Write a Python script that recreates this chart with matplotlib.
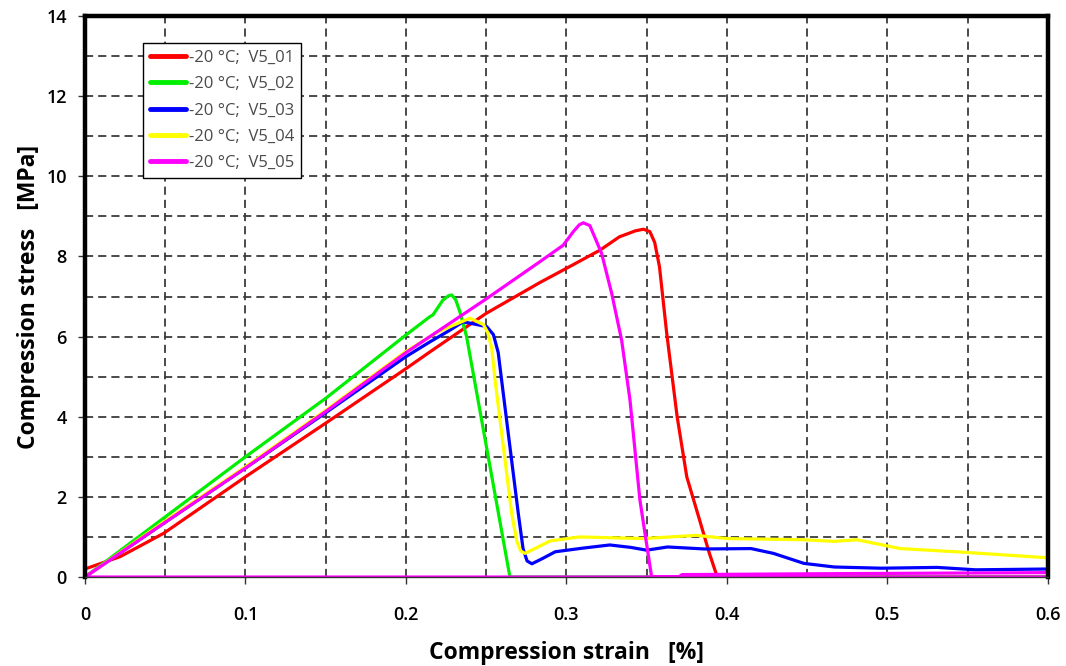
import matplotlib
matplotlib.use("Agg")
import matplotlib.pyplot as plt
from matplotlib.ticker import MultipleLocator

plt.rcParams['font.family'] = ['Open Sans', 'DejaVu Sans']

# ---------------------------------------------
# Data (strain %, stress MPa)
# ---------------------------------------------
labels = ["-20 °C;  V5_01", "-20 °C;  V5_02", "-20 °C;  V5_03",
          "-20 °C;  V5_04", "-20 °C;  V5_05"]
colors = ["#ff0000", "#00ee00", "#0000ff", "#ffff00", "#ff00ff"]

xticks = [0.0, 0.1, 0.2, 0.3, 0.4, 0.5, 0.6]
xtick_labels = ["0", "0.1", "0.2", "0.3", "0.4", "0.5", "0.6"]
yticks = [0, 2, 4, 6, 8, 10, 12, 14]

strain_01 = [0.0, 0.022, 0.049, 0.1, 0.15, 0.2, 0.215, 0.25, 0.2835, 0.304,
             0.321, 0.333, 0.343, 0.348, 0.352, 0.355, 0.358, 0.3625, 0.369,
             0.375, 0.383, 0.389, 0.394, 0.6]
stress_01 = [0.2, 0.51, 1.09, 2.5, 3.84, 5.2, 5.62, 6.58, 7.35, 7.79,
             8.16, 8.49, 8.64, 8.68, 8.62, 8.35, 7.74, 6.08, 4.0,
             2.5, 1.42, 0.6, 0.0, 0.0]

strain_02 = [0.0, 0.049, 0.1, 0.15, 0.2, 0.215, 0.2168, 0.223, 0.2265, 0.2285,
             0.231, 0.2336, 0.2378, 0.2648, 0.6]
stress_02 = [0.0, 1.47, 3.0, 4.46, 6.04, 6.5, 6.54, 6.91, 7.02, 7.04,
             6.92, 6.62, 6.0, 0.0, 0.0]

strain_03 = [0.0, 0.049, 0.1, 0.15, 0.2, 0.215, 0.2274, 0.2356, 0.2503, 0.2545,
             0.2575, 0.2596, 0.2648, 0.270, 0.273, 0.2755, 0.2785, 0.2855, 0.293,
             0.31, 0.327, 0.34, 0.35, 0.363, 0.386, 0.415, 0.429, 0.448, 0.467,
             0.496, 0.531, 0.555, 0.6]
stress_03 = [0.0, 1.34, 2.72, 4.1, 5.5, 5.87, 6.16, 6.37, 6.25, 6.05,
             5.6, 4.92, 3.25, 1.59, 0.7, 0.4, 0.33, 0.47, 0.63,
             0.72, 0.8, 0.74, 0.67, 0.75, 0.7, 0.71, 0.59, 0.34, 0.25,
             0.22, 0.24, 0.18, 0.2]

strain_04 = [0.0, 0.049, 0.1, 0.15, 0.2, 0.22, 0.2399, 0.2483, 0.251, 0.2535,
             0.2555, 0.2607, 0.2659, 0.269, 0.2715, 0.2742, 0.2898, 0.308, 0.348,
             0.381, 0.40, 0.448, 0.467, 0.481, 0.508, 0.543, 0.6]
stress_04 = [0.0, 1.37, 2.75, 4.16, 5.63, 6.12, 6.46, 6.3, 6.1, 5.7,
             4.92, 3.25, 1.59, 0.9, 0.65, 0.59, 0.9, 1.0, 0.96,
             1.04, 0.96, 0.93, 0.89, 0.93, 0.71, 0.63, 0.48]

strain_05 = [0.0, 0.049, 0.1, 0.15, 0.2, 0.25, 0.2835, 0.298, 0.3043, 0.308,
             0.3105, 0.3146, 0.3219, 0.3282, 0.3344, 0.3396, 0.3458, 0.3531, 0.37,
             0.372, 0.45, 0.6, 0.6, 0.0]
stress_05 = [0.0, 1.34, 2.72, 4.13, 5.6, 6.94, 7.87, 8.28, 8.62, 8.79,
             8.84, 8.77, 8.08, 7.08, 5.91, 4.42, 1.92, 0.0, 0.0,
             0.06, 0.08, 0.11, 0.0, 0.0]

series = [(strain_01, stress_01), (strain_02, stress_02), (strain_03, stress_03),
          (strain_04, stress_04), (strain_05, stress_05)]

# ---------------------------------------------
# Figure
# ---------------------------------------------
fig = plt.figure(figsize=(10.66, 6.66), dpi=100)
ax = fig.add_axes([0.0797, 0.1336, 0.9033, 0.8423])

for (x, y), c, lab in zip(series, colors, labels):
    ax.plot(x, y, color=c, lw=2.3, label=lab, solid_capstyle='round',
            solid_joinstyle='round')

ax.set_xlim(0, 0.6)
ax.set_ylim(0, 14)
ax.set_xticks(xticks, xtick_labels)
ax.set_yticks(yticks)
ax.xaxis.set_minor_locator(MultipleLocator(0.05))
ax.yaxis.set_minor_locator(MultipleLocator(1))

ax.grid(True, which='both', color='#3c3c3c', lw=1.3, linestyle=(0, (4.5, 2.8)))
ax.set_axisbelow(True)

ax.tick_params(which='major', direction='out', length=5, width=1, color='#333333',
               labelsize=13)
ax.tick_params(which='minor', length=0)
ax.tick_params(axis='x', pad=16)
ax.tick_params(axis='y', pad=8)
for lbl in ax.get_xticklabels() + ax.get_yticklabels():
    lbl.set_fontweight('semibold')

for side in ['left', 'top', 'right']:
    ax.spines[side].set_linewidth(3.2)
    ax.spines[side].set_color('black')
ax.spines['bottom'].set_linewidth(1)
ax.spines['bottom'].set_color('#333333')

ax.set_xlabel("Compression strain   [%]", fontsize=16.5, fontweight='bold', labelpad=12)
ax.set_ylabel("Compression stress   [MPa]", fontsize=16.5, fontweight='bold', labelpad=4)

leg = ax.legend(loc='upper left', bbox_to_anchor=(0.06, 0.9524), borderaxespad=0,
                fontsize=12, handlelength=2.2, handletextpad=0.15,
                labelspacing=0.62, borderpad=0.42, fancybox=False, framealpha=1,
                edgecolor='black')
leg.get_frame().set_linewidth(1)
for t in leg.get_texts():
    t.set_color('#4a4a4a')
for h in leg.get_lines():
    h.set_linewidth(3.5)

fig.savefig("out.png", dpi=100)
